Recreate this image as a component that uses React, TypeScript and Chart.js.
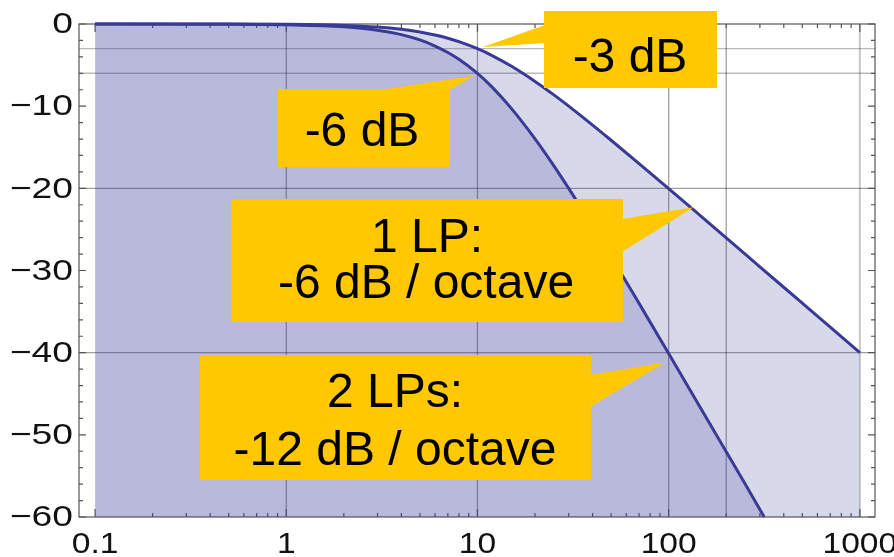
import React, { useEffect, useRef } from "react";
import { Chart, registerables } from "chart.js";
Chart.register(...registerables);

// ---- data ----
const freq1 = [0.1, 0.5, 1, 2, 3, 4, 5, 6, 7, 8, 10, 12, 15, 20, 25, 30, 40, 50, 70, 100, 150, 200, 300, 500, 700, 1000];
const lp1 = [0, -0.01, -0.04, -0.17, -0.37, -0.64, -0.97, -1.34, -1.73, -2.15, -3.01, -3.87, -5.12, -6.99, -8.6, -10.0, -12.3, -14.15, -16.99, -20.04, -23.54, -26.03, -29.55, -33.98, -36.9, -40.0];
const freq2 = [0.1, 0.5, 1, 2, 3, 4, 5, 6, 7, 8, 10, 12, 15, 20, 25, 30, 40, 50, 70, 100, 150, 200, 250, 316];
const lp2 = [0, -0.02, -0.09, -0.34, -0.75, -1.29, -1.94, -2.68, -3.47, -4.3, -6.02, -7.74, -10.24, -13.98, -17.2, -20.0, -24.6, -28.3, -34.0, -40.1, -47.1, -52.06, -55.9, -60];

const xTickValues = [0.1, 1, 10, 100, 1000];
const xTickLabels = ["0.1", "1", "10", "100", "1000"];
const yTickValues = [0, -10, -20, -30, -40, -50, -60];
const yTickLabels = ["0", "\u221210", "\u221220", "\u221230", "\u221240", "\u221250", "\u221260"];
const xGridValues = [1, 10, 100, 200];
const xGridEdge = [1000];
const yGridMajor = [-20, -40];
const yGridLevels = [-3, -6];

const callouts = [
  { lines: ["-3 dB"], box: [544, 11, 173, 77], base: [[545, 25], [545, 43]], tip: [10.7, -2.8], text: [[630, 72]] },
  { lines: ["-6 dB"], box: [278, 89, 172, 78], base: [[380, 90], [450, 90]], tip: [9.6, -6.3], text: [[362, 146]] },
  { lines: ["1 LP:", "-6 dB / octave"], box: [231, 199, 392, 123], base: [[622, 219], [622, 252]], tip: [135, -22.3], text: [[427, 252], [426, 298]] },
  { lines: ["2 LPs:", "-12 dB / octave"], box: [200, 355, 391, 125], base: [[590, 375], [590, 407]], tip: [95.7, -41.2], text: [[395, 407], [395, 465]] },
];

const LINE = "rgb(58,58,150)";
const FILL = "rgba(61,61,153,0.2)";
const YELLOW = "rgb(255,200,0)";
const FONT = "'Liberation Sans', Arial, sans-serif";

const decor = {
  id: "decor",
  beforeDatasetsDraw(chart: any) {
    const { ctx, chartArea: a, scales } = chart;
    const x = scales.x, y = scales.y;
    ctx.save();
    const vline = (v: number, color: string, w: number) => {
      const px = x.getPixelForValue(v);
      ctx.strokeStyle = color; ctx.lineWidth = w;
      ctx.beginPath(); ctx.moveTo(px, a.top); ctx.lineTo(px, a.bottom); ctx.stroke();
    };
    const hline = (v: number, color: string, w: number) => {
      const py = y.getPixelForValue(v);
      ctx.strokeStyle = color; ctx.lineWidth = w;
      ctx.beginPath(); ctx.moveTo(a.left, py); ctx.lineTo(a.right, py); ctx.stroke();
    };
    yGridLevels.forEach((v) => hline(v, "rgba(0,0,0,0.27)", 1.4));
    yGridMajor.forEach((v) => hline(v, "rgba(0,0,0,0.38)", 1.3));
    xGridValues.forEach((v) => vline(v, "rgba(0,0,0,0.38)", 1.3));
    xGridEdge.forEach((v) => vline(v, "rgba(0,0,0,0.22)", 2));

    ctx.strokeStyle = "#555"; ctx.lineWidth = 1.2;
    ctx.strokeRect(a.left, a.top, a.right - a.left, a.bottom - a.top);

    ctx.beginPath();
    for (let d = 0.1; d < 1500; d *= 10) {
      for (let m = 1; m <= 9; m++) {
        const v = d * m;
        if (v > 1000.5) break;
        const px = x.getPixelForValue(v);
        const len = m === 1 ? 8 : 4;
        ctx.moveTo(px, a.bottom); ctx.lineTo(px, a.bottom - len);
        ctx.moveTo(px, a.top); ctx.lineTo(px, a.top + len);
      }
    }
    for (let v = -60; v <= 0; v += 2) {
      const py = y.getPixelForValue(v);
      const len = v % 10 === 0 ? 7 : 4;
      ctx.moveTo(a.left, py); ctx.lineTo(a.left + len, py);
      ctx.moveTo(a.right, py); ctx.lineTo(a.right - len, py);
    }
    ctx.stroke();
    ctx.restore();
  },
  afterDatasetsDraw(chart: any) {
    const { ctx, scales } = chart;
    const x = scales.x, y = scales.y;
    ctx.save();
    callouts.forEach((c) => {
      ctx.fillStyle = YELLOW;
      const [bx, by, bw, bh] = c.box;
      ctx.fillRect(bx, by, bw, bh);
      ctx.beginPath();
      ctx.moveTo(c.base[0][0], c.base[0][1]);
      ctx.lineTo(x.getPixelForValue(c.tip[0]), y.getPixelForValue(c.tip[1]));
      ctx.lineTo(c.base[1][0], c.base[1][1]);
      ctx.closePath();
      ctx.fill();
      ctx.fillStyle = "#000";
      ctx.font = `48px ${FONT}`;
      ctx.textAlign = "center";
      ctx.textBaseline = "alphabetic";
      c.lines.forEach((t, i) => ctx.fillText(t, c.text[i][0], c.text[i][1]));
    });
    ctx.restore();
  },
  afterDraw(chart: any) {
    const { ctx, chartArea: a, scales } = chart;
    const x = scales.x, y = scales.y;
    ctx.save();
    ctx.fillStyle = "#111";
    ctx.font = `30px ${FONT}`;
    ctx.textBaseline = "middle";
    ctx.textAlign = "right";
    yTickValues.forEach((v, i) => {
      ctx.save();
      ctx.translate(a.left - 6, y.getPixelForValue(v) + 1);
      ctx.scale(1.24, 1);
      ctx.fillText(yTickLabels[i], 0, 0);
      ctx.restore();
    });
    ctx.textAlign = "center";
    ctx.textBaseline = "alphabetic";
    xTickValues.forEach((v, i) => {
      ctx.save();
      ctx.translate(x.getPixelForValue(v), a.bottom + 36);
      ctx.scale(1.12, 1);
      ctx.fillText(xTickLabels[i], 0, 0);
      ctx.restore();
    });
    ctx.restore();
  },
};

export default function App() {
  const ref = useRef<HTMLCanvasElement>(null);
  useEffect(() => {
    if (!ref.current) return;
    const chart = new Chart(ref.current, {
      type: "line",
      data: {
        datasets: [
          {
            data: freq1.map((f, i) => ({ x: f, y: lp1[i] })),
            borderColor: LINE,
            backgroundColor: FILL,
            borderWidth: 3,
            pointRadius: 0,
            fill: "start",
            cubicInterpolationMode: "monotone",
            clip: 4,
          },
          {
            data: freq2.map((f, i) => ({ x: f, y: lp2[i] })),
            borderColor: LINE,
            backgroundColor: FILL,
            borderWidth: 3,
            pointRadius: 0,
            fill: "start",
            cubicInterpolationMode: "monotone",
            clip: 4,
          },
        ],
      },
      options: {
        animation: false,
        responsive: false,
        layout: { padding: { left: 79, right: 65, top: 24, bottom: 40 } },
        plugins: { legend: { display: false }, tooltip: { enabled: false } },
        scales: {
          x: { type: "logarithmic", min: 0.0824, max: 1200, display: false },
          y: { type: "linear", min: -60, max: 0, display: false },
        },
      },
      plugins: [decor],
    });
    return () => chart.destroy();
  }, []);
  return (
    <div style={{ position: "absolute", left: 0, top: 0, width: 894, height: 557, overflow: "hidden", background: "#fff" }}>
      <canvas ref={ref} width={940} height={557} style={{ display: "block" }} />
    </div>
  );
}
